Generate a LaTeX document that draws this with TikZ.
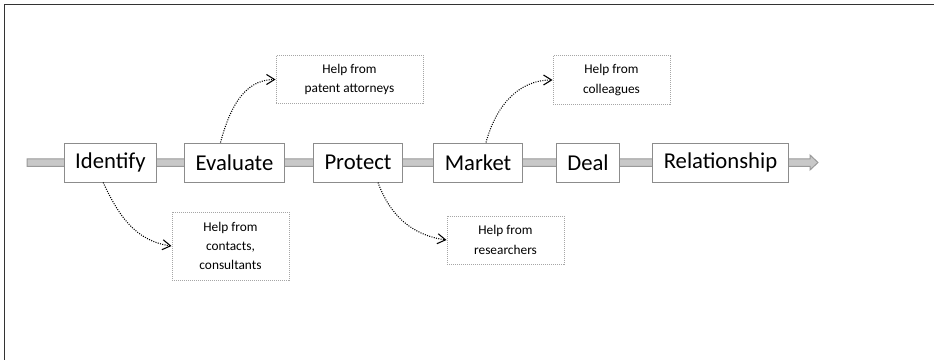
\documentclass[tikz,border=0pt]{standalone}
\definecolor{GrisCadre}{HTML}{8C8C8C}
\definecolor{GrisAide}{HTML}{A6A6A6}
\definecolor{GrisBarre}{HTML}{C8C8C8}
\definecolor{GrisBord}{HTML}{9A9A9A}
\usepackage{fontspec}
\setmainfont{Carlito}
\usepackage{tikz}
\usetikzlibrary{arrows.meta}
\tikzset{
	stage/.style={draw=GrisCadre, fill=white, line width=0.75pt,
		minimum height=29.25pt, inner xsep=8.25pt,
		font=\fontsize{17}{19}\selectfont},
	helpbox/.style={draw=GrisAide, dash pattern=on 0.75pt off 0.75pt, line width=0.75pt, align=center,
		minimum width=87.75pt, minimum height=36pt,
		font=\fontsize{10}{14.5}\selectfont},
	helpline/.style={dash pattern=on 0.75pt off 1pt, line width=0.8pt,
		arrows={-Straight Barb[length=6pt, width=7.5pt]}}
}

\begin{document}
\begin{tikzpicture}[x=0.75pt,y=-0.75pt]
    \useasboundingbox (0,0) rectangle (934,360);
    % frame
    \draw[line width=0.75pt, color=black!80] (4,360) -- (4,5) -- (934,5);
    % the process bar
    \def\yb{162.5}
    \def\h{3.75}
    \draw[fill=GrisBarre, draw=GrisBord, line width=0.75pt]
        (27,\yb-\h) -- (810,\yb-\h) -- (810,\yb-7.5) -- (818,\yb)
        -- (810,\yb+7.5) -- (810,\yb+\h) -- (27,\yb+\h) -- cycle;
    \foreach \x/\n/\t in {110.5/id/Identify, 234.5/ev/Evaluate, 358/pr/Protect,
        478/ma/Market, 588/de/Deal, 720.5/re/Relationship} {
        \node[stage] (\n) at (\x,\yb) {\t};
    }
    % help from outside
    \node[helpbox, minimum width=110.25pt] (attorneys) at (349.5,79.5) {Help from\\patent attorneys};
    \node[helpbox] (colleagues) at (611.5,80) {Help from\\colleagues};
    \node[helpbox, minimum height=51pt] (contacts) at (230.5,246) {Help from\\contacts,\\consultants};
    \node[helpbox] (researchers) at (505.5,240) {Help from\\researchers};
    \draw[helpline] ([xshift=-10.5pt]ev.north) to[out=75, in=180] (attorneys.west);
    \draw[helpline] ([xshift=6pt]ma.north) to[out=75, in=180] (colleagues.west);
    \draw[helpline] ([xshift=-5.5pt]id.south) to[out=-65, in=172] (contacts.west);
    \draw[helpline] ([xshift=15pt]pr.south) to[out=-70, in=172] (researchers.west);
\end{tikzpicture}
\end{document}
